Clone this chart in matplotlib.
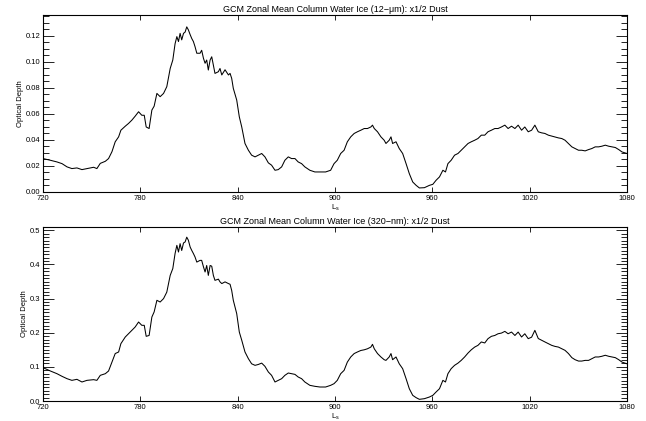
import matplotlib
matplotlib.use("Agg")
import matplotlib.pyplot as plt
from matplotlib.ticker import MultipleLocator, FormatStrFormatter

plt.rcParams['font.family'] = ['Liberation Sans', 'DejaVu Sans']

# Ls (solar longitude) sample positions
ls = [720.0, 724.5, 728.6, 731.7, 734.8, 737.8, 740.9, 744.0, 747.1, 751.2,
      753.2, 755.3, 758.4, 760.4, 762.5, 764.5, 766.6, 768.0, 770.7, 772.7,
      774.8, 776.8, 778.9, 780.9, 782.4, 783.6, 785.4, 787.1, 788.5, 790.2,
      792.2, 794.3, 796.3, 798.4, 800.0, 801.4, 802.5, 803.5, 804.5, 805.5,
      806.6, 807.6, 808.6, 809.6, 810.7, 811.7, 812.7, 813.7, 814.8, 816.8,
      817.8, 818.9, 819.9, 820.9, 821.9, 823.0, 824.0, 825.0, 826.0, 828.1,
      829.1, 830.2, 832.2, 834.3, 835.3, 836.3, 837.3, 839.4, 841.0, 842.5,
      844.5, 846.6, 848.6, 850.7, 852.7, 854.8, 856.8, 858.9, 860.9, 863.0,
      865.0, 867.1, 869.1, 871.2, 873.2, 875.3, 877.3, 879.4, 881.4, 884.5,
      887.6, 890.7, 894.2, 897.3, 899.4, 901.4, 903.5, 905.6, 907.6, 909.7,
      911.8, 913.8, 915.9, 918.0, 920.0, 922.1, 923.1, 924.2, 926.2, 928.3,
      930.3, 931.4, 933.4, 934.5, 935.5, 937.6, 939.6, 941.7, 943.8, 945.8,
      947.9, 950.0, 952.0, 955.1, 958.2, 960.3, 962.3, 964.4, 966.5, 968.1,
      969.6, 971.6, 973.7, 975.8, 977.8, 979.9, 982.0, 984.0, 986.1, 988.1,
      990.2, 992.3, 994.3, 996.4, 998.5, 1000.5, 1002.6, 1004.7, 1006.7, 1008.8,
      1010.9, 1012.9, 1015.0, 1017.0, 1019.1, 1021.2, 1023.2, 1025.3, 1027.3, 1029.4,
      1031.5, 1033.6, 1035.6, 1037.7, 1039.8, 1041.8, 1043.9, 1046.0, 1048.0, 1050.1,
      1052.1, 1054.2, 1056.3, 1058.3, 1060.4, 1062.5, 1064.5, 1066.6, 1068.7, 1070.7,
      1072.8, 1074.9, 1076.9, 1080.0]

# optical depth, 12-um
tau_12um = [0.0257, 0.0244, 0.0231, 0.0218, 0.0193, 0.0180, 0.0185, 0.0172, 0.0180, 0.0190,
            0.0180, 0.0220, 0.0236, 0.0257, 0.0310, 0.0386, 0.0424, 0.0475, 0.0506, 0.0527,
            0.0553, 0.0583, 0.0617, 0.0590, 0.0590, 0.0500, 0.0488, 0.0630, 0.0660, 0.0758,
            0.0733, 0.0758, 0.0810, 0.0950, 0.1015, 0.1140, 0.1195, 0.1157, 0.1220, 0.1170,
            0.1220, 0.1230, 0.1270, 0.1247, 0.1210, 0.1180, 0.1157, 0.1118, 0.1067, 0.1067,
            0.1090, 0.1028, 0.0990, 0.1015, 0.0938, 0.1015, 0.1040, 0.0977, 0.0912, 0.0925,
            0.0950, 0.0900, 0.0940, 0.0900, 0.0912, 0.0874, 0.0797, 0.0707, 0.0578, 0.0500,
            0.0373, 0.0321, 0.0283, 0.0270, 0.0283, 0.0296, 0.0270, 0.0224, 0.0206, 0.0167,
            0.0172, 0.0193, 0.0244, 0.0270, 0.0257, 0.0257, 0.0231, 0.0218, 0.0193, 0.0167,
            0.0154, 0.0154, 0.0154, 0.0167, 0.0218, 0.0244, 0.0296, 0.0321, 0.0386, 0.0424,
            0.0450, 0.0463, 0.0475, 0.0488, 0.0488, 0.0500, 0.0514, 0.0488, 0.0463, 0.0424,
            0.0398, 0.0373, 0.0398, 0.0424, 0.0373, 0.0386, 0.0334, 0.0296, 0.0218, 0.0141,
            0.0077, 0.0051, 0.0031, 0.0033, 0.0051, 0.0059, 0.0090, 0.0116, 0.0167, 0.0154,
            0.0218, 0.0244, 0.0283, 0.0296, 0.0321, 0.0347, 0.0373, 0.0386, 0.0398, 0.0411,
            0.0437, 0.0437, 0.0463, 0.0475, 0.0488, 0.0488, 0.0500, 0.0514, 0.0488, 0.0506,
            0.0488, 0.0514, 0.0475, 0.0500, 0.0463, 0.0475, 0.0514, 0.0463, 0.0455, 0.0450,
            0.0437, 0.0430, 0.0424, 0.0416, 0.0411, 0.0398, 0.0373, 0.0347, 0.0334, 0.0321,
            0.0321, 0.0316, 0.0326, 0.0334, 0.0347, 0.0347, 0.0352, 0.0360, 0.0352, 0.0347,
            0.0342, 0.0326, 0.0308, 0.0296]

# optical depth, 320-nm
tau_320nm = [0.0977, 0.0880, 0.0800, 0.0723, 0.0654, 0.0605, 0.0635, 0.0557, 0.0605, 0.0625,
             0.0605, 0.0752, 0.0800, 0.0879, 0.1140, 0.1390, 0.1436, 0.1680, 0.1875, 0.1970,
             0.2070, 0.2168, 0.2314, 0.2217, 0.2217, 0.1895, 0.1920, 0.2460, 0.2610, 0.2950,
             0.2900, 0.3000, 0.3190, 0.3680, 0.3880, 0.4320, 0.4560, 0.4365, 0.4610, 0.4410,
             0.4630, 0.4660, 0.4800, 0.4710, 0.4510, 0.4410, 0.4320, 0.4220, 0.4070, 0.4120,
             0.4120, 0.3930, 0.3780, 0.3970, 0.3680, 0.3970, 0.3950, 0.3680, 0.3535, 0.3570,
             0.3490, 0.3440, 0.3490, 0.3440, 0.3420, 0.3240, 0.2950, 0.2560, 0.2020, 0.1780,
             0.1436, 0.1240, 0.1090, 0.1045, 0.1070, 0.1110, 0.1016, 0.0850, 0.0752, 0.0557,
             0.0605, 0.0654, 0.0752, 0.0820, 0.0800, 0.0780, 0.0703, 0.0654, 0.0557, 0.0459,
             0.0430, 0.0410, 0.0410, 0.0459, 0.0508, 0.0605, 0.0800, 0.0898, 0.1140, 0.1290,
             0.1390, 0.1436, 0.1480, 0.1500, 0.1530, 0.1580, 0.1660, 0.1530, 0.1390, 0.1290,
             0.1210, 0.1190, 0.1290, 0.1390, 0.1210, 0.1290, 0.1090, 0.0947, 0.0654, 0.0360,
             0.0166, 0.0098, 0.0049, 0.0068, 0.0117, 0.0166, 0.0264, 0.0360, 0.0605, 0.0557,
             0.0800, 0.0947, 0.1045, 0.1110, 0.1190, 0.1290, 0.1406, 0.1500, 0.1580, 0.1630,
             0.1730, 0.1700, 0.1826, 0.1895, 0.1920, 0.1970, 0.1990, 0.2040, 0.1970, 0.2020,
             0.1920, 0.2020, 0.1875, 0.1970, 0.1826, 0.1870, 0.2070, 0.1830, 0.1780, 0.1730,
             0.1680, 0.1630, 0.1600, 0.1580, 0.1530, 0.1484, 0.1390, 0.1270, 0.1210, 0.1170,
             0.1170, 0.1190, 0.1190, 0.1240, 0.1290, 0.1290, 0.1310, 0.1340, 0.1310, 0.1290,
             0.1270, 0.1210, 0.1140, 0.1090]

titles = ["GCM Zonal Mean Column Water Ice (12\u2212\u03bcm): x1/2 Dust",
          "GCM Zonal Mean Column Water Ice (320\u2212nm): x1/2 Dust"]
x_ticks = [720, 780, 840, 900, 960, 1020, 1080]

fig = plt.figure(figsize=(6.46, 4.21), dpi=100)
ax1 = fig.add_axes([0.0666, 0.544, 0.904, 0.42])
ax2 = fig.add_axes([0.0666, 0.0475, 0.904, 0.4135])

panels = [
    (ax1, tau_12um, 0.136, 0.02, 0.005, '%.2f'),
    (ax2, tau_320nm, 0.51, 0.1, 0.01, '%.1f'),
]

for (ax, tau, ytop, major, minor, fmt), title in zip(panels, titles):
    ax.plot(ls, tau, color='black', lw=0.75)
    ax.set_xlim(720, 1080)
    ax.set_ylim(0, ytop)
    ax.set_xticks(x_ticks)
    ax.yaxis.set_major_locator(MultipleLocator(major))
    ax.yaxis.set_minor_locator(MultipleLocator(minor))
    ax.yaxis.set_major_formatter(FormatStrFormatter(fmt))
    ax.tick_params(direction='in', top=True, right=True, which='both',
                   labelsize=5.5, width=0.6, pad=2)
    ax.tick_params(axis='x', which='major', length=3.5)
    ax.tick_params(axis='y', which='major', length=8)
    ax.tick_params(axis='y', which='minor', length=4.5)
    for s in ax.spines.values():
        s.set_linewidth(0.8)
    ax.set_title(title, fontsize=6.5, pad=2)
    ax.set_xlabel(r'$\mathregular{L_s}$', fontsize=5.5, labelpad=1)
    ax.set_ylabel('Optical Depth', fontsize=5.5, labelpad=1)

fig.savefig('out.png', dpi=100)
